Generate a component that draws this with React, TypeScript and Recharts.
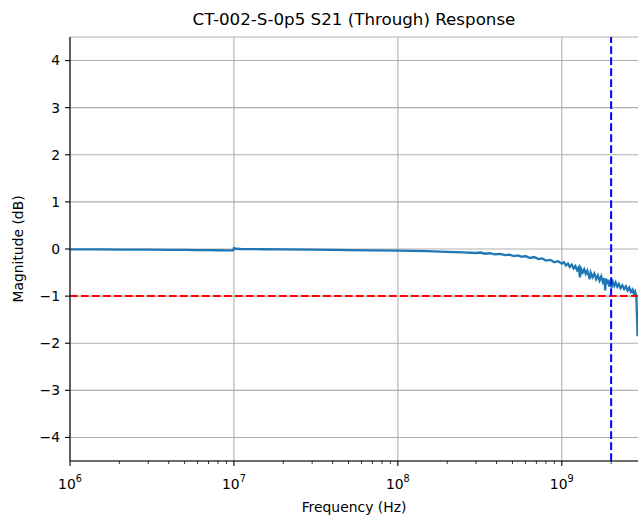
import React from 'react';
import { LineChart, Line, XAxis, YAxis, CartesianGrid, ReferenceLine } from 'recharts';

const FONT = '"DejaVu Sans", sans-serif';

// measured S21 trace (Hz, dB)
const freqs = [
  1e6, 1.5e6, 2e6, 3e6, 4e6, 5e6, 6e6, 7e6, 8e6, 9e6, 9.9e6,
  1.0e7, 1.02e7, 1.1e7, 1.5e7, 2e7, 3e7, 5e7, 7e7,
  1e8, 1.5e8, 2e8, 2.5e8, 3e8, 3.2e8, 3.4e8, 3.64e8, 3.9e8, 4.2e8, 4.5e8, 4.8e8, 5.1e8, 5.4e8, 5.7e8, 6.0e8,
  6.4e8, 6.8e8, 7.2e8, 7.6e8, 8.0e8, 8.5e8, 9.0e8, 9.5e8,
  1e9, 1.03e9, 1.06e9, 1.09e9, 1.12e9, 1.15e9, 1.18e9, 1.21e9, 1.24e9, 1.27e9, 1.29e9, 1.31e9,
  1.34e9, 1.37e9, 1.4e9, 1.43e9, 1.46e9, 1.48e9, 1.5e9, 1.54e9, 1.58e9, 1.62e9, 1.66e9, 1.7e9,
  1.74e9, 1.78e9, 1.82e9, 1.84e9, 1.86e9, 1.89e9, 1.92e9, 1.95e9, 1.98e9, 2.01e9, 2.05e9, 2.09e9,
  2.13e9, 2.18e9, 2.23e9, 2.28e9, 2.34e9, 2.4e9, 2.46e9, 2.52e9, 2.58e9, 2.64e9, 2.7e9, 2.75e9,
  2.8e9, 2.85e9, 2.9e9,
];

const s21 = [
  -0.01, -0.01, -0.012, -0.015, -0.018, -0.02, -0.022, -0.025, -0.027, -0.028, -0.03,
  0.02, 0.005, 0.0, -0.005, -0.01, -0.015, -0.022, -0.028,
  -0.035, -0.045, -0.06, -0.07, -0.085, -0.075, -0.1, -0.09, -0.115, -0.105, -0.13, -0.12, -0.15, -0.135, -0.165, -0.15,
  -0.19, -0.17, -0.215, -0.2, -0.245, -0.23, -0.28, -0.26,
  -0.31, -0.28, -0.35, -0.31, -0.38, -0.33, -0.41, -0.36, -0.45, -0.39, -0.6, -0.42,
  -0.5, -0.43, -0.53, -0.46, -0.56, -0.64, -0.5, -0.6, -0.52, -0.64, -0.56, -0.67,
  -0.58, -0.7, -0.62, -0.88, -0.63, -0.75, -0.65, -0.8, -0.68, -0.82, -0.7, -0.78,
  -0.71, -0.8, -0.74, -0.83, -0.77, -0.85, -0.79, -0.88, -0.82, -0.91, -0.86, -0.95,
  -0.9, -1.0, -1.85,
];

const majorTicks = [1e6, 1e7, 1e8, 1e9];
const minorTicks = [
  2e6, 3e6, 4e6, 5e6, 6e6, 7e6, 8e6, 9e6,
  2e7, 3e7, 4e7, 5e7, 6e7, 7e7, 8e7, 9e7,
  2e8, 3e8, 4e8, 5e8, 6e8, 7e8, 8e8, 9e8,
  2e9,
];
const yTicks = [-4, -3, -2, -1, 0, 1, 2, 3, 4];

const data = freqs.map((f, i) => ({ f, db: s21[i] }));

const XTick = (props: any) => {
  const { x, y, payload } = props;
  const v = payload.value;
  const major = majorTicks.includes(v);
  const top = y - 5;
  return (
    <g>
      <line x1={x} x2={x} y1={top} y2={top + (major ? 5 : 3)} stroke="#000" strokeWidth={major ? 1.1 : 0.8} />
      {major && (
        <text x={x} y={top + 28} textAnchor="middle" fontFamily={FONT} fontSize={13.9} fill="#000">
          10<tspan dy={-7} fontSize={9.7}>{Math.round(Math.log10(v))}</tspan>
        </text>
      )}
    </g>
  );
};

export default function App() {
  return (
    <div style={{ position: 'absolute', left: 0, top: 0, width: 638, height: 517, overflow: 'hidden', background: '#fff' }}>
      <div style={{ position: 'absolute', left: 70, width: 568, top: 11, textAlign: 'center', fontFamily: FONT, fontSize: 16.7, lineHeight: 1, color: '#000' }}>
        CT-002-S-0p5 S21 (Through) Response
      </div>
      <LineChart width={640} height={517} data={data} margin={{ top: 37, right: 0, left: 0, bottom: 0 }}>
        <CartesianGrid stroke="#b0b0b0" strokeWidth={1.1} verticalValues={majorTicks} />
        <XAxis
          dataKey="f"
          type="number"
          scale="log"
          domain={[1e6, 3e9]}
          allowDataOverflow
          ticks={[...majorTicks, ...minorTicks]}
          interval={0}
          tickLine={false}
          tickSize={5}
          tickMargin={0}
          tick={<XTick />}
          height={56}
          axisLine={{ stroke: '#000', strokeWidth: 1.1 }}
        />
        <XAxis
          xAxisId="top"
          orientation="top"
          dataKey="f"
          type="number"
          scale="log"
          domain={[1e6, 3e9]}
          allowDataOverflow
          height={0}
          tick={false}
          tickLine={false}
          axisLine={{ stroke: '#000', strokeWidth: 1.1 }}
        />
        <YAxis
          type="number"
          domain={[-4.5, 4.5]}
          ticks={yTicks}
          interval={0}
          width={70}
          tickSize={5}
          tickMargin={5}
          tickLine={{ stroke: '#000', strokeWidth: 1.1 }}
          axisLine={{ stroke: '#000', strokeWidth: 1.1 }}
          tick={{ fill: '#000', fontSize: 13.9, fontFamily: FONT }}
          tickFormatter={(v: number) => (v < 0 ? '\u2212' + Math.abs(v) : String(v))}
        />
        <Line
          dataKey="db"
          type="linear"
          stroke="#1f77b4"
          strokeWidth={2.3}
          dot={false}
          isAnimationActive={false}
        />
        <ReferenceLine y={-1} stroke="#ff0000" strokeWidth={2} strokeDasharray="7.7 3.3" />
        <ReferenceLine x={2e9} stroke="#0000ff" strokeWidth={2} strokeDasharray="7.7 3.3" />
      </LineChart>
      <div style={{ position: 'absolute', left: 70, width: 568, top: 501, textAlign: 'center', fontFamily: FONT, fontSize: 13.9, lineHeight: 1, color: '#000' }}>
        Frequency (Hz)
      </div>
      <div style={{ position: 'absolute', left: 19, top: 249, transform: 'translate(-50%, -50%) rotate(-90deg)', whiteSpace: 'nowrap', fontFamily: FONT, fontSize: 13.9, lineHeight: 1, color: '#000' }}>
        Magnitude (dB)
      </div>
    </div>
  );
}
